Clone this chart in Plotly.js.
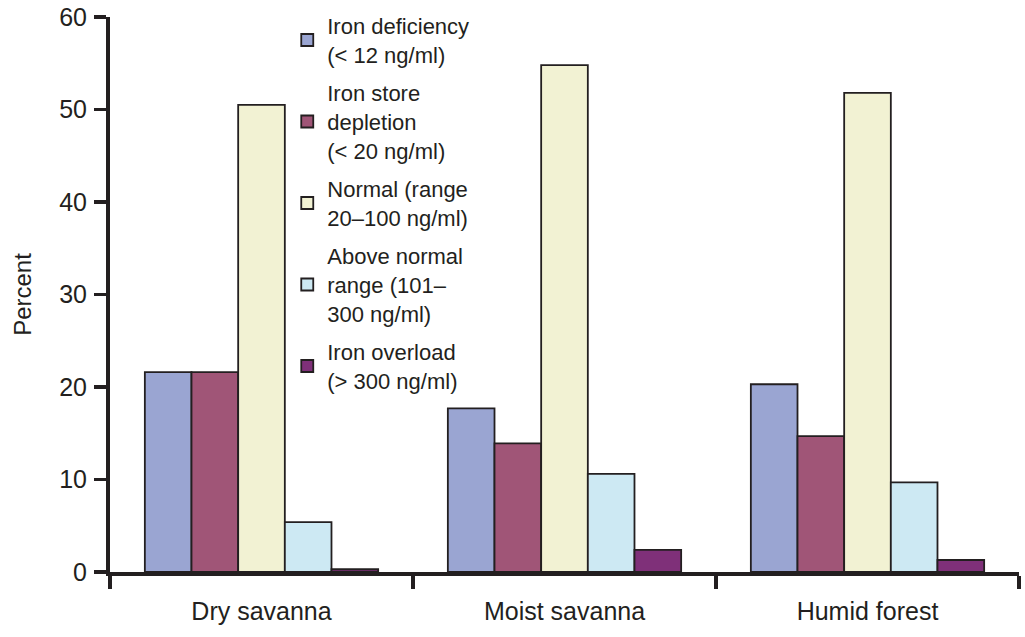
<!DOCTYPE html>
<html>
<head>
<meta charset="utf-8">
<script src="https://cdn.plot.ly/plotly-3.0.1.min.js"></script>
<style>
  html, body { margin: 0; padding: 0; background: #fff; }
  #graph { width: 1025px; height: 637px; }
</style>
</head>
<body>
<div id="graph"></div>
<script>
var zones = ["Dry savanna", "Moist savanna", "Humid forest"];
var seriesNames = [
    "Iron deficiency<br>(< 12 ng/ml)",
    "Iron store<br>depletion<br>(< 20 ng/ml)",
    "Normal (range<br>20–100 ng/ml)",
    "Above normal<br>range (101–<br>300 ng/ml)",
    "Iron overload<br>(> 300 ng/ml)"
];
var ironDeficiency = [21.6, 17.7, 20.3];
var storeDepletion = [21.6, 13.9, 14.7];
var normalRange = [50.5, 54.8, 51.8];
var aboveNormal = [5.4, 10.6, 9.7];
var ironOverload = [0.3, 2.4, 1.3];
var yTicks = [0, 10, 20, 30, 40, 50, 60];

var colours = ["#9aa5d2", "#a05577", "#f2f2d3", "#cde9f3", "#7f3079"];
var values = [ironDeficiency, storeDepletion, normalRange, aboveNormal, ironOverload];
var ink = "#231f20";
var font = "Liberation Sans, Arial, sans-serif";

function drawGraph() {
    var data = [];
    for (var i = 0; i < values.length; i += 1) {
        data.push({
            type: "bar",
            x: zones,
            y: values[i],
            name: seriesNames[i],
            legendgroup: "g" + i,
            marker: { color: colours[i], line: { color: ink, width: 1.8 } }
        });
    }
    var layout = {
        width: 1025,
        height: 637,
        margin: { l: 110, r: 6, t: 16, b: 65, pad: 0 },
        paper_bgcolor: "#fff",
        plot_bgcolor: "#fff",
        font: { family: font, size: 24, color: ink },
        barmode: "group",
        bargap: 0.23,
        bargroupgap: 0,
        showlegend: true,
        legend: {
            x: 0.195,
            y: 1.02,
            xanchor: "left",
            yanchor: "top",
            bgcolor: "rgba(0,0,0,0)",
            font: { family: font, size: 22, color: ink },
            tracegroupgap: 7,
            itemwidth: 30,
            maxheight: 600
        },
        xaxis: {
            type: "category",
            showline: true,
            linecolor: ink,
            linewidth: 4,
            ticks: "outside",
            tickson: "boundaries",
            ticklen: 13,
            tickwidth: 3.5,
            tickcolor: ink,
            showgrid: false,
            zeroline: false,
            ticklabelstandoff: 14,
            tickfont: { family: font, size: 25, color: ink }
        },
        yaxis: {
            range: [0, 60],
            tickvals: yTicks,
            showline: true,
            linecolor: ink,
            linewidth: 4,
            ticks: "outside",
            ticklen: 12,
            tickwidth: 3.5,
            tickcolor: ink,
            showgrid: false,
            zeroline: false,
            ticklabelstandoff: 2,
            tickfont: { family: font, size: 25, color: ink },
            title: { text: "Percent", font: { family: font, size: 24, color: ink }, standoff: 22 }
        }
    };
    Plotly.newPlot("graph", data, layout, { displayModeBar: false, staticPlot: true });
}
drawGraph();
</script>
</body>
</html>
